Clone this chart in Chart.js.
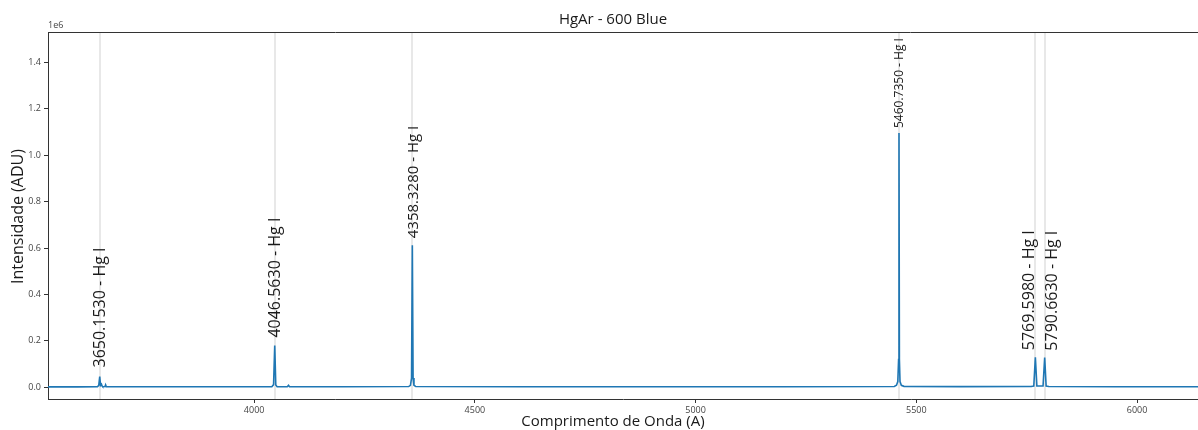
<!DOCTYPE html>
<html>
<head>
<meta charset="utf-8">
<title>HgAr - 600 Blue</title>
<script src="https://cdn.jsdelivr.net/npm/chart.js@4/dist/chart.umd.min.js"></script>
<style>
  html, body { margin: 0; padding: 0; background: #ffffff; }
  #wrap { width: 1198px; height: 430px; position: relative; }
</style>
</head>
<body>
<div id="wrap"><canvas id="chart" width="1198" height="430"></canvas></div>
<script>
// Spectrum samples: wavelength (Angstrom) and counts (ADU)
const WAVELENGTH = [
  3533, 3600, 3645, 3648, 3650.2, 3652, 3654, 3655.5, 3657, 3662, 3663.5, 3665, 3700,
  3850, 4000, 4040, 4044, 4046.6, 4049, 4052, 4075, 4077.8, 4080, 4200,
  4350, 4354, 4356.5, 4358.3, 4360, 4362, 4366, 4600, 4900, 5200,
  5450, 5455, 5458, 5459.8, 5460.7, 5461.6, 5463, 5466, 5472, 5600,
  5760, 5766, 5769.6, 5773, 5787, 5790.7, 5794, 5800, 5950, 6138
];
const COUNTS = [
  2000, 2200, 2500, 9000, 47000, 9000, 14000, 6000, 3000, 3500, 11000, 3000, 2500,
  2500, 2600, 3000, 12000, 180000, 10000, 3000, 3000, 9000, 3000, 2800,
  3500, 9000, 40000, 612000, 40000, 9000, 4000, 3000, 2800, 3000,
  4000, 9000, 25000, 120000, 1095000, 120000, 25000, 9000, 4500, 3200,
  3500, 6000, 130000, 6000, 6000, 128000, 6000, 3500, 3000, 3000
];

// Identified lines
const LINE_WL = [3650.153, 4046.563, 4358.328, 5460.735, 5769.598, 5790.663];
const LINE_ION = ['Hg I', 'Hg I', 'Hg I', 'Hg I', 'Hg I', 'Hg I'];

// Axis ticks
const X_TICKS = [4000, 4500, 5000, 5500, 6000];
const Y_TICKS = [0, 200000, 400000, 600000, 800000, 1000000, 1200000, 1400000];

// Label text sizes (px), gap above the peak (px) and horizontal placement
// relative to the line (0 = centred on it, -1 = left of it, 1 = right of it)
const LABEL_FONT_PX = [16, 16, 15, 12, 16, 16];
const LABEL_GAP_PX = [9, 8, 7, 5, 7, 7];
const LABEL_SIDE = [0, 0, 0, 0, -1, 1];

const FONT = '"Open Sans", "DejaVu Sans", sans-serif';
const TEXT_COLOR = '#1a1a1a';
const TICK_COLOR = '#444444';
const SPINE_COLOR = '#333333';

const points = WAVELENGTH.map((w, i) => ({ x: w, y: COUNTS[i] }));

// Peak height in the spectrum near a given wavelength
function peakNear(wl) {
  let best = -Infinity;
  for (let i = 0; i < WAVELENGTH.length; i++) {
    if (Math.abs(WAVELENGTH[i] - wl) <= 5 && COUNTS[i] > best) best = COUNTS[i];
  }
  return best;
}

const decorations = {
  id: 'decorations',
  beforeDatasetsDraw(chart) {
    const { ctx, chartArea, scales } = chart;
    ctx.save();
    ctx.strokeStyle = 'rgba(200,200,200,0.42)';
    ctx.lineWidth = 2;
    LINE_WL.forEach(wl => {
      const x = Math.round(scales.x.getPixelForValue(wl));
      ctx.beginPath();
      ctx.moveTo(x, chartArea.top);
      ctx.lineTo(x, chartArea.bottom);
      ctx.stroke();
    });
    ctx.restore();
  },
  afterDatasetsDraw(chart) {
    const { ctx, chartArea, scales } = chart;
    ctx.save();
    // line labels
    ctx.fillStyle = TEXT_COLOR;
    ctx.textAlign = 'left';
    LINE_WL.forEach((wl, i) => {
      const x = scales.x.getPixelForValue(wl);
      const y = scales.y.getPixelForValue(peakNear(wl)) - LABEL_GAP_PX[i];
      ctx.save();
      ctx.translate(x, y);
      ctx.rotate(-Math.PI / 2);
      ctx.font = LABEL_FONT_PX[i] + 'px ' + FONT;
      // in the rotated frame, "top" lies toward the right of the line
      const side = LABEL_SIDE[i];
      if (side === 0) {
        ctx.textBaseline = 'middle';
        ctx.fillText(wl.toFixed(4) + ' - ' + LINE_ION[i], 0, 1);
      } else if (side < 0) {
        ctx.textBaseline = 'alphabetic';
        ctx.fillText(wl.toFixed(4) + ' - ' + LINE_ION[i], 0, -1);
      } else {
        ctx.textBaseline = 'alphabetic';
        ctx.fillText(wl.toFixed(4) + ' - ' + LINE_ION[i], 0, LABEL_FONT_PX[i] * 0.78);
      }
      ctx.restore();
    });
    // top spine
    ctx.strokeStyle = SPINE_COLOR;
    ctx.lineWidth = 1;
    ctx.beginPath();
    ctx.moveTo(chartArea.left, chartArea.top + 0.5);
    ctx.lineTo(chartArea.right, chartArea.top + 0.5);
    ctx.stroke();
    // exponent marker
    ctx.fillStyle = TICK_COLOR;
    ctx.font = '9px ' + FONT;
    ctx.textAlign = 'left';
    ctx.textBaseline = 'bottom';
    ctx.fillText('1e6', chartArea.left, chartArea.top - 2);
    // titles
    const cx = 613;
    ctx.fillStyle = TEXT_COLOR;
    ctx.textAlign = 'center';
    ctx.textBaseline = 'middle';
    ctx.font = '15px ' + FONT;
    ctx.fillText('HgAr - 600 Blue', cx, 20);
    ctx.font = '15px ' + FONT;
    ctx.fillText('Comprimento de Onda (A)', cx, 422);
    ctx.font = '16px ' + FONT;
    ctx.save();
    ctx.translate(18, (chartArea.top + chartArea.bottom) / 2 + 1);
    ctx.rotate(-Math.PI / 2);
    ctx.fillText('Intensidade (ADU)', 0, 0);
    ctx.restore();
    ctx.restore();
  }
};

new Chart(document.getElementById('chart'), {
  type: 'line',
  data: {
    datasets: [{
      data: points,
      borderColor: '#1f77b4',
      borderWidth: 1.6,
      pointRadius: 0,
      tension: 0,
      fill: false
    }]
  },
  options: {
    responsive: false,
    animation: false,
    events: [],
    layout: { padding: { top: 32, left: 0, right: 0, bottom: 0 } },
    plugins: {
      legend: { display: false },
      title: { display: false },
      tooltip: { enabled: false }
    },
    scales: {
      x: {
        type: 'linear',
        min: 3533,
        max: 6138,
        afterBuildTicks: s => { s.ticks = X_TICKS.map(v => ({ value: v })); },
        afterFit: s => { s.height = 31; },
        ticks: {
          font: { family: FONT, size: 9 },
          color: TICK_COLOR,
          padding: 2,
          maxRotation: 0,
          callback: v => String(v)
        },
        grid: { drawOnChartArea: false, drawTicks: true, tickLength: 4, tickColor: SPINE_COLOR },
        border: { color: SPINE_COLOR, width: 1 }
      },
      y: {
        min: -50000,
        max: 1530000,
        afterBuildTicks: s => { s.ticks = Y_TICKS.map(v => ({ value: v })); },
        afterFit: s => { s.width = 48; },
        ticks: {
          font: { family: FONT, size: 9 },
          color: TICK_COLOR,
          padding: 3,
          callback: v => (v / 1e6).toFixed(1)
        },
        grid: { drawOnChartArea: false, drawTicks: true, tickLength: 4, tickColor: SPINE_COLOR },
        border: { color: SPINE_COLOR, width: 1 }
      }
    }
  },
  plugins: [decorations]
});
</script>
</body>
</html>
